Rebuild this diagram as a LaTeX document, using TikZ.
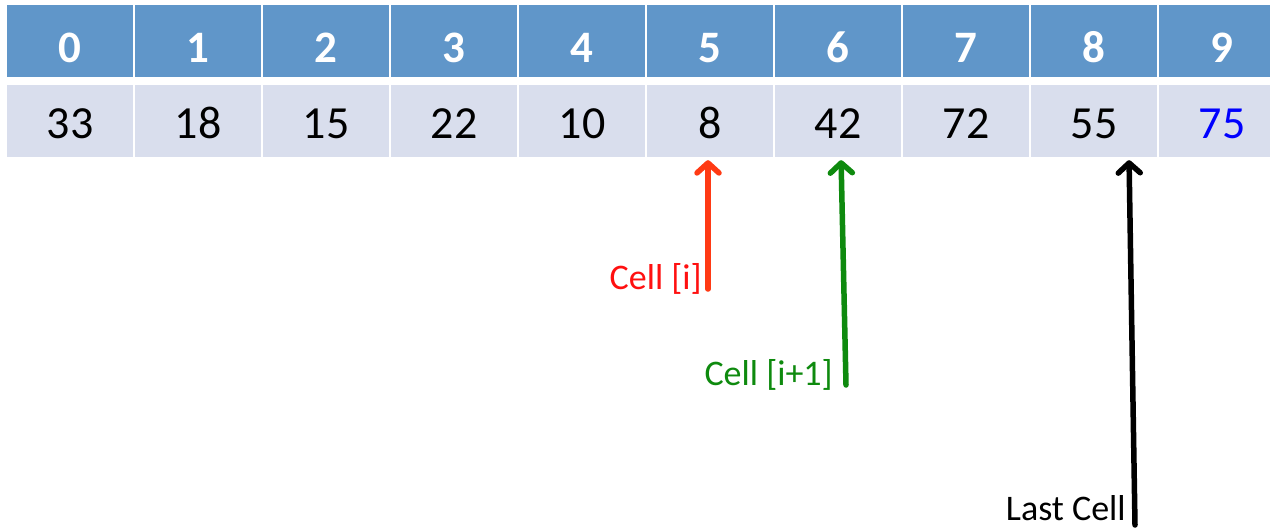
\documentclass[tikz,border=0pt]{standalone}
\usepackage{fontspec}
\setmainfont{Carlito}
\usetikzlibrary{arrows.meta}
\definecolor{hdr}{HTML}{6096C9}
\definecolor{valbg}{HTML}{D9DEED}
\definecolor{redarr}{HTML}{FF3A14}
\definecolor{redtxt}{HTML}{FF1010}
\definecolor{grn}{HTML}{0E8A0E}
\begin{document}
\begin{tikzpicture}[x=1pt,y=-1pt,
  hcell/.style={fill=hdr, draw=none, minimum width=126pt, minimum height=72pt, inner sep=0pt},
  vcell/.style={fill=valbg, draw=none, minimum width=126pt, minimum height=72pt, inner sep=0pt},
  htext/.style={anchor=base, text=white, font=\fontsize{45}{50}\selectfont\bfseries, inner sep=0pt},
  vtext/.style={anchor=base, text=black, font=\fontsize{46}{52}\selectfont, inner sep=0pt},
  lbl/.style={anchor=base east, font=\fontsize{36}{42}\selectfont, inner sep=0pt},
  ptr/.style={line width=5.5pt, line cap=round, -{Straight Barb[length=10pt,width=22pt,line cap=round,line join=round]}, shorten >=3pt}
]
\useasboundingbox (0,0) rectangle (1270,530);
\fill[white] (0,0) rectangle (1270,530);
% cells
\foreach \i in {0,...,8} {
  \node[hcell] (h\i) at (70+128*\i,41) {};
  \node[vcell] (v\i) at (70+128*\i,121) {};
}
\node[hcell, minimum width=111pt] (h9) at (1214.5,41) {};
\node[vcell, minimum width=111pt] (v9) at (1214.5,121) {};
% header labels
\foreach \i in {0,...,9} {
  \node[htext] (ht\i) at (70+128*\i,62) {\i};
}
% values
\node[vtext] (t0) at (70,138) {33};
\node[vtext] (t1) at (198,138) {18};
\node[vtext] (t2) at (326,138) {15};
\node[vtext] (t3) at (454,138) {22};
\node[vtext] (t4) at (582,138) {10};
\node[vtext] (t5) at (710,138) {8};
\node[vtext] (t6) at (838,138) {42};
\node[vtext] (t7) at (966,138) {72};
\node[vtext] (t8) at (1094,138) {55};
\node[vtext, text=blue] (t9) at (1222,138) {75};
% pointer labels
\node[lbl, text=redtxt] (li) at (702,289) {Cell [i]};
\node[lbl, text=grn] (lj) at (833,385) {Cell [i+1]};
\node[lbl, text=black] (ll) at (1126,520) {Last Cell};
% pointer tails
\coordinate (ri) at (708,289);
\coordinate (rj) at (846,385);
\coordinate (rl) at (1135,525);
% arrows
\draw[ptr, redarr] (ri) -- ([xshift=-2pt]v5.south);
\draw[ptr, grn] (rj) -- ([xshift=3pt]v6.south);
\draw[ptr, black] (rl) -- ([xshift=35pt]v8.south);
\end{tikzpicture}
\end{document}
